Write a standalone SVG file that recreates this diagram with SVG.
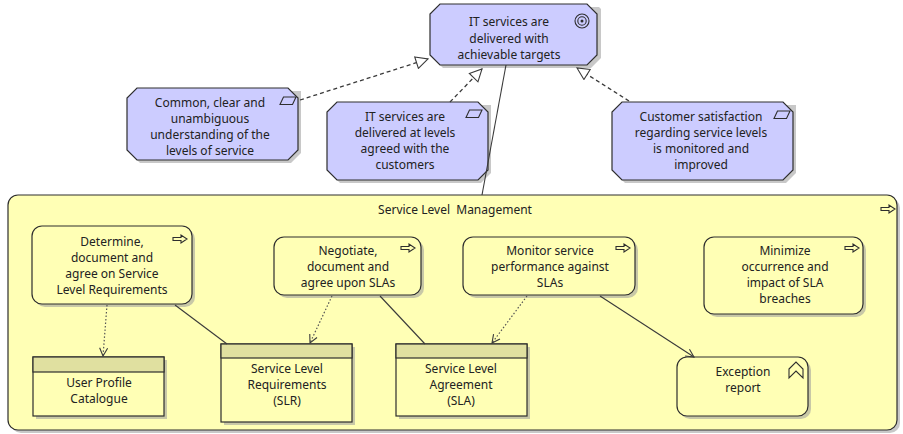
<svg xmlns="http://www.w3.org/2000/svg" width="903" height="434" viewBox="0 0 903 434">
  <defs>
    <style>
      text { font-family: "Noto Sans", "Open Sans", "DejaVu Sans", sans-serif; font-size: 12px; fill: #222; text-anchor: middle; white-space: pre; }
      .mot { fill: #ccccff; stroke: #2e2e2e; stroke-width: 1.2; }
      .bus { fill: #ffffb5; stroke: #2e2e2e; stroke-width: 1.2; }
      .hdr { fill: #e0e0a0; stroke: #2e2e2e; stroke-width: 1.2; }
      .shadow { fill: #9a9a9a; opacity: 0.55; }
      .icon { fill: none; stroke: #2e2e2e; stroke-width: 1.1; }
      .real { fill: none; stroke: #3a3a3a; stroke-width: 1.3; stroke-dasharray: 4 3; }
      .acc { fill: none; stroke: #555; stroke-width: 1.2; stroke-dasharray: 1.5 2; }
      .assoc { fill: none; stroke: #3a3a3a; stroke-width: 1.1; }
    </style>
    <marker id="hollowTri" markerUnits="userSpaceOnUse" markerWidth="16" markerHeight="14" refX="13" refY="7" orient="auto">
      <path d="M1,1 L13,7 L1,13 Z" fill="#fff" stroke="#3a3a3a" stroke-width="1.1"/>
    </marker>
    <marker id="openArrow" markerUnits="userSpaceOnUse" markerWidth="12" markerHeight="12" refX="10" refY="6" orient="auto">
      <path d="M2,2 L10,6 L2,10" fill="none" stroke="#3a3a3a" stroke-width="1.1"/>
    </marker>
    <!-- small "process" arrow icon -->
    <path id="procIcon" d="M0,2.5 H8 V0 L14,4 L8,8 V5.5 H0 Z" fill="none" stroke="#2e2e2e" stroke-width="1.1"/>
    <!-- parallelogram "principle" icon -->
    <path id="paraIcon" d="M3.5,0 H16 L12.5,7.5 H0 Z" fill="none" stroke="#2e2e2e" stroke-width="1.1"/>
  </defs>

  <rect width="903" height="434" fill="#ffffff"/>

  <!-- Service Level Management container -->
  <g id="slm">
    <rect class="shadow" x="11" y="198" width="889" height="235" rx="10"/>
    <rect class="bus" x="8" y="195" width="889" height="235" rx="10"/>
    <text x="455" y="214" xml:space="preserve">Service Level  Management</text>
    <use href="#procIcon" x="881" y="205"/>
  </g>

  <!-- Goal -->
  <g id="goal">
    <polygon class="shadow" points="443,7 599,7 601,9 601,58 591,68 443,68 433,58 433,17"/>
    <polygon class="mot" points="440,4 587,4 597,14 597,55 587,65 440,65 430,55 430,14"/>
    <circle class="icon" cx="582" cy="21" r="7"/>
    <circle class="icon" cx="582" cy="21" r="4.2"/>
    <circle cx="582" cy="21" r="1.5" fill="#2e2e2e"/>
    <text x="509" y="26">IT services are</text>
    <text x="509" y="43">delivered with</text>
    <text x="509" y="59">achievable targets</text>
  </g>

  <!-- Principles -->
  <g id="principle1">
    <polygon class="shadow" points="140,91 301,91 301,153 291,163 140,163 130,153 130,101"/>
    <polygon class="mot" points="137,88 288,88 298,98 298,150 288,160 137,160 127,150 127,98"/>
    <use href="#paraIcon" x="280" y="97"/>
    <text x="210" y="107">Common, clear and</text>
    <text x="210" y="123">unambiguous</text>
    <text x="210" y="139">understanding of the</text>
    <text x="210" y="155">levels of service</text>
  </g>

  <g id="principle2">
    <polygon class="shadow" points="340,105 491,105 491,173 481,183 340,183 330,173 330,115"/>
    <polygon class="mot" points="337,102 478,102 488,112 488,170 478,180 337,180 327,170 327,112"/>
    <use href="#paraIcon" x="466" y="110"/>
    <text x="405" y="121">IT services are</text>
    <text x="405" y="137">delivered at levels</text>
    <text x="405" y="153">agreed with the</text>
    <text x="405" y="169">customers</text>
  </g>

  <g id="principle3">
    <polygon class="shadow" points="625,105 796,105 796,173 786,183 625,183 615,173 615,115"/>
    <polygon class="mot" points="622,102 783,102 793,112 793,170 783,180 622,180 612,170 612,112"/>
    <use href="#paraIcon" x="774" y="111"/>
    <text x="701" y="121">Customer satisfaction</text>
    <text x="701" y="137">regarding service levels</text>
    <text x="701" y="153">is monitored and</text>
    <text x="701" y="169">improved</text>
  </g>

  <!-- Processes -->
  <g id="proc-determine">
    <rect class="shadow" x="35" y="229" width="160" height="78" rx="10"/>
    <rect class="bus" x="32" y="226" width="160" height="78" rx="10"/>
    <use href="#procIcon" x="173" y="235"/>
    <text x="112" y="246">Determine,</text>
    <text x="112" y="262">document and</text>
    <text x="112" y="278">agree on Service</text>
    <text x="112" y="294">Level Requirements</text>
  </g>

  <g id="proc-negotiate">
    <rect class="shadow" x="277" y="240" width="147" height="58" rx="10"/>
    <rect class="bus" x="274" y="237" width="147" height="58" rx="10"/>
    <use href="#procIcon" x="401" y="244"/>
    <text x="348" y="255">Negotiate,</text>
    <text x="348" y="271">document and</text>
    <text x="348" y="287">agree upon SLAs</text>
  </g>

  <g id="proc-monitor">
    <rect class="shadow" x="466" y="240" width="172" height="58" rx="10"/>
    <rect class="bus" x="463" y="237" width="172" height="58" rx="10"/>
    <use href="#procIcon" x="616" y="244"/>
    <text x="550" y="255">Monitor service</text>
    <text x="550" y="271">performance against</text>
    <text x="550" y="287">SLAs</text>
  </g>

  <g id="proc-minimize">
    <rect class="shadow" x="707" y="240" width="159" height="77" rx="10"/>
    <rect class="bus" x="704" y="237" width="159" height="77" rx="10"/>
    <use href="#procIcon" x="845" y="244"/>
    <text x="785" y="255">Minimize</text>
    <text x="785" y="271">occurrence and</text>
    <text x="785" y="287">impact of SLA</text>
    <text x="785" y="303">breaches</text>
  </g>

  <!-- Data objects -->
  <g id="data-upc">
    <rect class="shadow" x="36" y="360" width="131" height="59"/>
    <rect class="bus" x="33" y="357" width="131" height="59"/>
    <rect class="hdr" x="33" y="357" width="131" height="15"/>
    <text x="99" y="387">User Profile</text>
    <text x="99" y="403">Catalogue</text>
  </g>

  <g id="data-slr">
    <rect class="shadow" x="224" y="347" width="131" height="78"/>
    <rect class="bus" x="221" y="344" width="131" height="78"/>
    <rect class="hdr" x="221" y="344" width="131" height="14"/>
    <text x="287" y="373">Service Level</text>
    <text x="287" y="389">Requirements</text>
    <text x="287" y="405">(SLR)</text>
  </g>

  <g id="data-sla">
    <rect class="shadow" x="399" y="347" width="131" height="72"/>
    <rect class="bus" x="396" y="344" width="131" height="72"/>
    <rect class="hdr" x="396" y="344" width="131" height="14"/>
    <text x="461" y="373">Service Level</text>
    <text x="461" y="389">Agreement</text>
    <text x="461" y="405">(SLA)</text>
  </g>

  <!-- Representation -->
  <g id="rep-exception">
    <rect class="shadow" x="680" y="360" width="131" height="59" rx="10"/>
    <rect class="bus" x="677" y="357" width="131" height="59" rx="10"/>
    <polygon class="icon" points="789,369 796,362 803,369 803,378 796,371 789,378"/>
    <text x="743" y="376">Exception</text>
    <text x="743" y="392">report</text>
  </g>

  <!-- Connectors -->
  <g id="connectors">
    <line class="real" x1="300" y1="100" x2="428" y2="59" marker-end="url(#hollowTri)"/>
    <line class="real" x1="450" y1="102" x2="482" y2="69" marker-end="url(#hollowTri)"/>
    <line class="real" x1="629" y1="101" x2="577" y2="68" marker-end="url(#hollowTri)"/>
    <line class="assoc" x1="506" y1="65" x2="482" y2="195"/>

    <line class="acc" x1="107" y1="305" x2="103" y2="356" marker-end="url(#openArrow)"/>
    <line class="assoc" x1="175" y1="305" x2="227" y2="344"/>
    <line class="acc" x1="332" y1="296" x2="310" y2="343" marker-end="url(#openArrow)"/>
    <line class="assoc" x1="380" y1="296" x2="425" y2="344"/>
    <line class="acc" x1="527" y1="296" x2="492" y2="343" marker-end="url(#openArrow)"/>
    <line class="assoc" x1="600" y1="296" x2="694" y2="357" marker-end="url(#openArrow)"/>
  </g>
</svg>
